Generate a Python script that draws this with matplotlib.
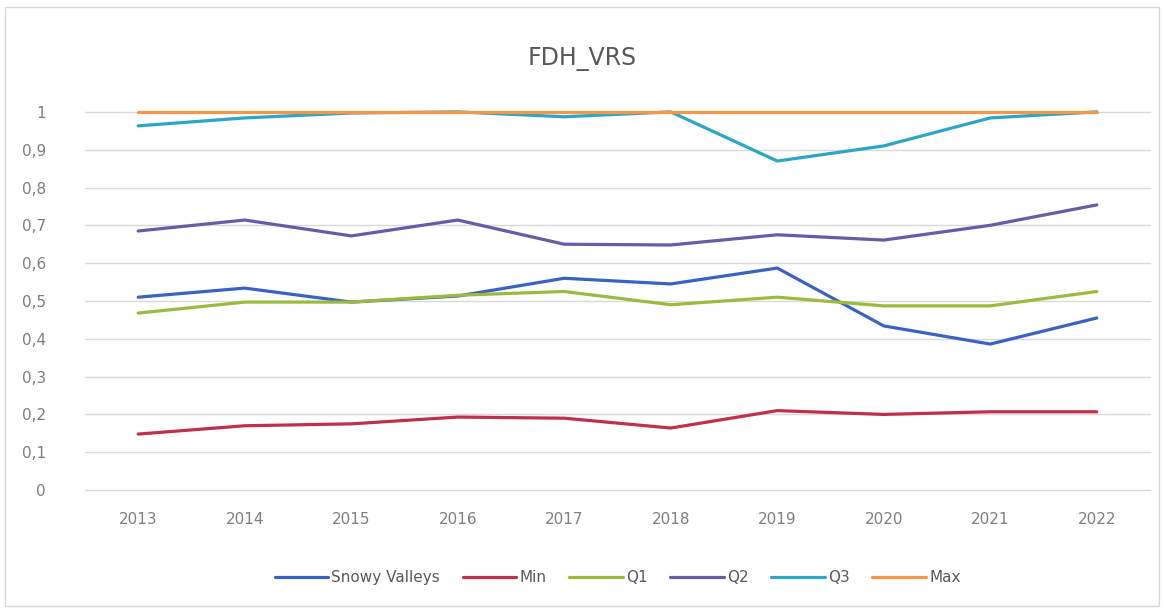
import matplotlib
matplotlib.use("Agg")
import matplotlib.pyplot as plt

years = [2013, 2014, 2015, 2016, 2017, 2018, 2019, 2020, 2021, 2022]
snowy_valleys = [0.51, 0.534, 0.497, 0.513, 0.56, 0.545, 0.587, 0.434, 0.386, 0.455]
min_vals = [0.148, 0.17, 0.175, 0.193, 0.19, 0.164, 0.21, 0.20, 0.207, 0.207]
q1_vals = [0.468, 0.497, 0.497, 0.515, 0.525, 0.49, 0.51, 0.487, 0.487, 0.525]
q2_vals = [0.685, 0.714, 0.672, 0.714, 0.65, 0.648, 0.675, 0.661, 0.70, 0.754]
q3_vals = [0.963, 0.984, 0.997, 1.0, 0.987, 1.0, 0.87, 0.91, 0.984, 1.0]
max_vals = [1, 1, 1, 1, 1, 1, 1, 1, 1, 1]
y_ticks = [0, 0.1, 0.2, 0.3, 0.4, 0.5, 0.6, 0.7, 0.8, 0.9, 1]
y_labels = ["0", "0,1", "0,2", "0,3", "0,4", "0,5", "0,6", "0,7", "0,8", "0,9", "1"]

series = [
    ("Snowy Valleys", snowy_valleys, "#3a62c4"),
    ("Min", min_vals, "#c0304a"),
    ("Q1", q1_vals, "#9bbb3c"),
    ("Q2", q2_vals, "#6a5aa8"),
    ("Q3", q3_vals, "#2aa6c6"),
    ("Max", max_vals, "#f79646"),
]

fig = plt.figure(figsize=(11.64, 6.08), dpi=100)
ax = fig.add_axes([0.073, 0.194, 0.915, 0.622])

x = list(range(len(years)))
for name, vals, col in series:
    ax.plot(x, vals, color=col, linewidth=2.3, label=name, solid_capstyle="round", clip_on=False)

ax.set_xlim(-0.5, len(years) - 0.5)
ax.set_ylim(0, 1)
ax.set_yticks(y_ticks)
ax.set_yticklabels(y_labels)
ax.set_xticks(x)
ax.set_xticklabels([str(y) for y in years])
ax.tick_params(length=0, colors="#7f7f7f", labelsize=11)
ax.tick_params(axis="x", pad=16)
ax.tick_params(axis="y", pad=28)
for t in y_ticks:
    ax.axhline(t, color="#d9d9d9", linewidth=1, zorder=0, clip_on=False)
for s in ax.spines.values():
    s.set_visible(False)

fig.text(0.5, 0.903, "FDH_VRS", ha="center", va="center", fontsize=17, color="#595959")

ax.legend(loc="upper center", bbox_to_anchor=(0.5, -0.175), ncol=6, frameon=False,
          fontsize=11, labelcolor="#595959", handlelength=3.5, handletextpad=0.2,
          columnspacing=1.5)

fig.patches.append(plt.Rectangle((0.004, 0.004), 0.992, 0.985, transform=fig.transFigure,
                                 fill=False, edgecolor="#d9d9d9", linewidth=1))

fig.savefig("out.png", dpi=100)
